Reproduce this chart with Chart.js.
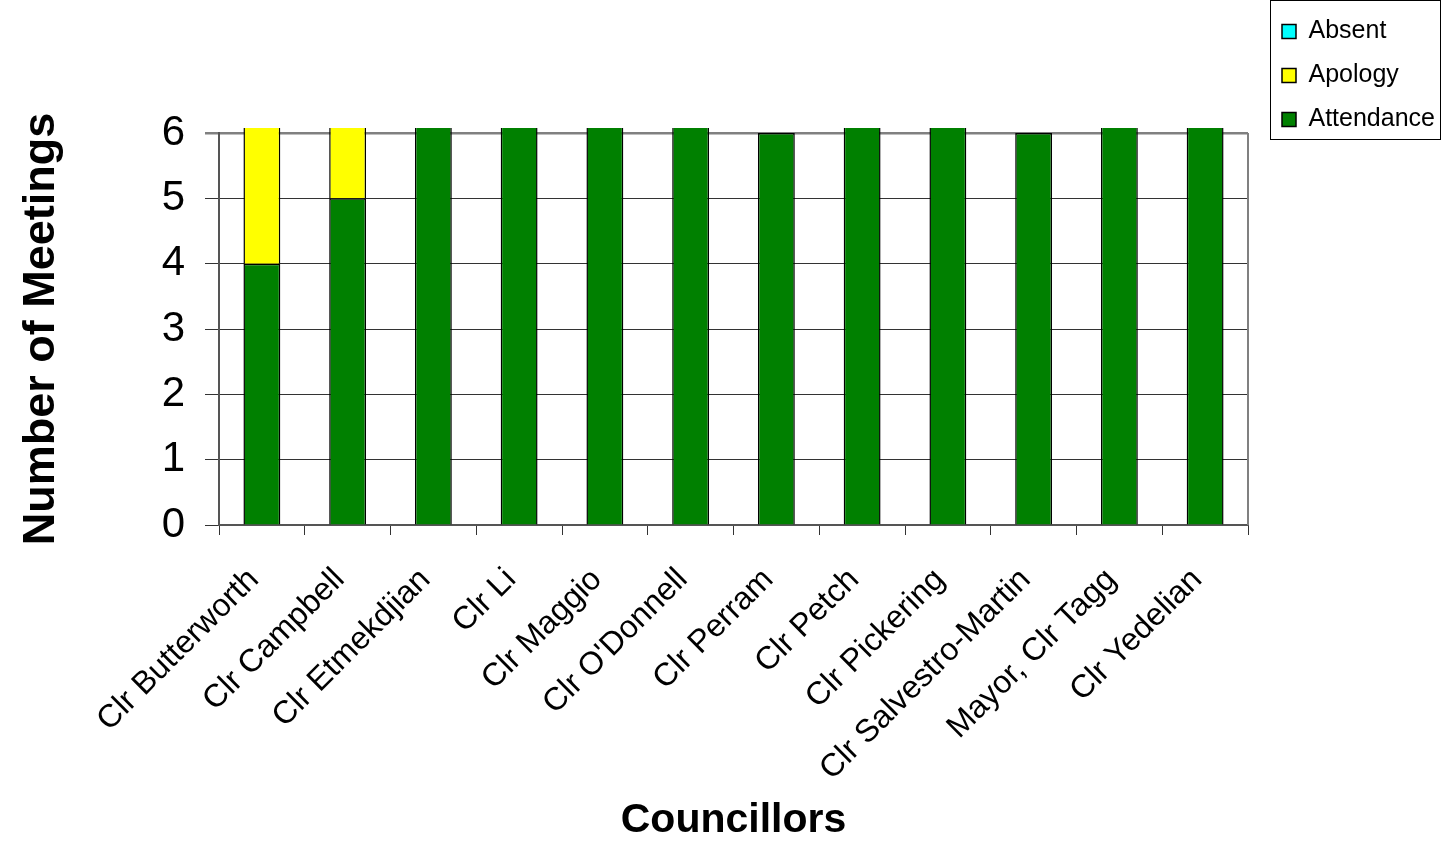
<!DOCTYPE html>
<html>
<head>
<meta charset="utf-8">
<title>Councillor attendance</title>
<script src="https://cdn.jsdelivr.net/npm/chart.js@4/dist/chart.umd.min.js"></script>
<style>
  html, body { margin: 0; padding: 0; background: #fff; }
  #wrap { width: 1444px; height: 841px; position: relative; }
</style>
</head>
<body>
<div id="wrap"><canvas id="chart"></canvas></div>
<script>
// Meetings per councillor
const councillors = [
    'Clr Butterworth', 'Clr Campbell', 'Clr Etmekdjian', 'Clr Li', 'Clr Maggio',
    "Clr O'Donnell", 'Clr Perram', 'Clr Petch', 'Clr Pickering',
    'Clr Salvestro-Martin', 'Mayor, Clr Tagg', 'Clr Yedelian'
];
const attendance = [4, 5, 7, 7, 7, 7, 6, 7, 7, 6, 7, 7];
const apology    = [3, 2, 0, 0, 0, 0, 0, 0, 0, 0, 0, 0];
const absent     = [0, 0, 0, 0, 0, 0, 0, 0, 0, 0, 0, 0];
const yTicks = [0, 1, 2, 3, 4, 5, 6];

const FONT = "'Liberation Sans', Arial, sans-serif";

// legend sits in the top-right corner with a thin frame round it
const legendFrame = {
    id: 'legendFrame',
    afterLayout(chart) {
        const l = chart.legend;
        l.left = 1263; l.top = 0;
        l.right = 1441; l.bottom = 400;
        l.width = 178; l.height = 400;
    },
    afterDraw(chart) {
        const c = chart.ctx;
        c.save();
        c.strokeStyle = '#000';
        c.lineWidth = 1;
        c.strokeRect(1270.5, 0.5, 170, 139);
        c.restore();
    }
};

// grey frame on the right side of the plot
const plotFrame = {
    id: 'plotFrame',
    beforeDatasetsDraw(chart) {
        const a = chart.chartArea, c = chart.ctx;
        c.save();
        c.strokeStyle = '#808080';
        c.lineWidth = 2;
        c.beginPath();
        c.moveTo(a.right, a.top);
        c.lineTo(a.right, a.bottom);
        c.stroke();
        c.restore();
    }
};

const barStyle = { borderColor: '#000', borderWidth: 1.5, barPercentage: 0.86, categoryPercentage: 0.5,
                   clip: { left: 0, top: 5, right: 0, bottom: 0 } };

new Chart(document.getElementById('chart'), {
    type: 'bar',
    data: {
        labels: councillors,
        datasets: [
            Object.assign({ label: 'Attendance', data: attendance, backgroundColor: '#008000' }, barStyle),
            Object.assign({ label: 'Apology', data: apology, backgroundColor: '#FFFF00' }, barStyle),
            Object.assign({ label: 'Absent', data: absent, backgroundColor: '#00FFFF' }, barStyle)
        ]
    },
    options: {
        responsive: true,
        maintainAspectRatio: false,
        animation: false,
        layout: { padding: { left: 0, right: 196, top: 133, bottom: 0 } },
        plugins: {
            tooltip: { enabled: false },
            legend: {
                position: 'chartArea',
                align: 'start',
                reverse: true,
                labels: {
                    color: '#000',
                    font: { family: FONT, size: 25 },
                    boxWidth: 14,
                    boxHeight: 14,
                    padding: 19
                }
            }
        },
        scales: {
            x: {
                stacked: true,
                afterFit(scale) { scale.height = 316; },
                border: { color: '#555', width: 2 },
                grid: { offset: true, drawOnChartArea: false, tickLength: 10, color: '#333', lineWidth: 1 },
                ticks: {
                    color: '#000',
                    font: { family: FONT, size: 32 },
                    maxRotation: 45,
                    minRotation: 45,
                    autoSkip: false,
                    padding: 26,
                    labelOffset: -8
                },
                title: {
                    display: true,
                    text: 'Councillors',
                    color: '#000',
                    font: { family: FONT, size: 41, weight: 'bold' },
                    padding: { top: 0, bottom: -4 }
                }
            },
            y: {
                stacked: true,
                min: yTicks[0],
                max: yTicks[yTicks.length - 1],
                afterFit(scale) { scale.width = 219; },
                afterBuildTicks(scale) { scale.ticks = yTicks.map(v => ({ value: v })); },
                border: { color: '#555', width: 2 },
                grid: {
                    color: ctx => ctx.tick && ctx.tick.value === 6 ? '#808080' : '#333',
                    lineWidth: ctx => ctx.tick && ctx.tick.value === 6 ? 2.5 : 1,
                    tickLength: 14
                },
                ticks: {
                    color: '#000',
                    font: { family: FONT, size: 42 },
                    padding: 20
                },
                title: {
                    display: true,
                    text: 'Number of Meetings',
                    color: '#000',
                    font: { family: FONT, size: 45, weight: 'bold' },
                    padding: { top: 15, bottom: 0 }
                }
            }
        }
    },
    plugins: [legendFrame, plotFrame]
});
</script>
</body>
</html>
